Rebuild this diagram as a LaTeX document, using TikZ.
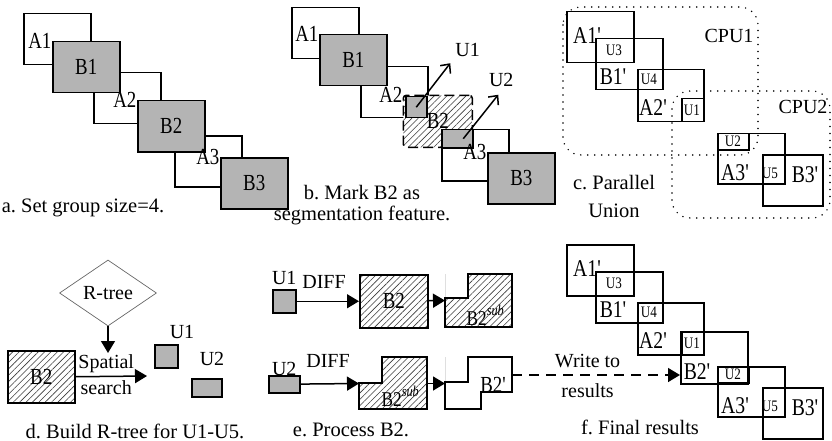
\documentclass[tikz,border=0pt]{standalone}
\usepackage{fontspec}
\setmainfont{Liberation Serif}
\newfontfamily\condfont{Liberation Serif}[FakeStretch=0.82]
\usetikzlibrary{arrows.meta,positioning,shapes.geometric,patterns.meta}
\frenchspacing
\definecolor{boxgray}{HTML}{B4B4B4}
\definecolor{hatchgray}{HTML}{3C3C3C}
\tikzset{
  blk/.style={draw, line width=1.5pt, inner sep=0pt, anchor=north west,
    minimum width=67pt, minimum height=51pt},
  gblk/.style={blk, fill=boxgray},
  hatch/.style={preaction={fill=white},
    pattern={Lines[angle=45,distance=4.5pt,line width=0.6pt]}, pattern color=hatchgray},
  small/.style={draw, line width=1.5pt, inner sep=0pt, anchor=north west},
  gsmall/.style={small, fill=boxgray},
  lbl/.style={font=\condfont\fontsize{23}{25}\selectfont, inner sep=0.5pt},
  plbl/.style={font=\condfont\fontsize{24}{26}\selectfont, inner sep=0.5pt},
  ulbl/.style={font=\condfont\fontsize{16}{18}\selectfont, inner sep=0pt},
  txt/.style={font=\fontsize{20}{22}\selectfont, inner sep=2pt},
  capt/.style={font=\fontsize{20.5}{21}\selectfont, align=center, inner sep=0pt},
  flow/.style={line width=1.5pt, -{Triangle[length=12pt,width=14pt]}},
  barb/.style={line width=1.5pt, -{Straight Barb[length=7pt,width=13pt]}},
  cpu/.style={line width=1.6pt, dash pattern=on 0pt off 7pt, line cap=round, rounded corners=18pt},
}
\begin{document}
\begin{tikzpicture}[x=1pt,y=-1pt]
  \useasboundingbox (0,0) rectangle (832,441);
  % a. group size
  \foreach \n/\x/\y in {1/23/13,2/93/72,3/174/135}
    \node[blk] (aA\n) at (\x,\y) {};
  \foreach \n/\x/\y in {1/52/41,2/137/100,3/220/157}{
    \node[gblk, lbl] (aB\n) at (\x,\y) {B\n};
    \node[lbl, anchor=east] (aL\n) at (aB\n.north west) {A\n};
  }
  \node[capt, anchor=base] (capa) at (83,212) {a. Set group size=4.};

  % b. segmentation feature
  \foreach \n/\x/\y in {1/291/7,2/360/66,3/441/129}
    \node[blk] (bA\n) at (\x,\y) {};
  \foreach \n/\x/\y in {1/319/34,3/487/152}
    \node[gblk, lbl] (bB\n) at (\x,\y) {B\n};
  \node[blk, hatch, dash pattern=on 10pt off 5pt, rounded corners=3pt,
    minimum width=69pt, minimum height=52pt] (bB2) at (403,95) {};
  \node[gsmall, minimum width=21pt, minimum height=21pt] (bU1) at (405,96) {};
  \node[gsmall, minimum width=31pt, minimum height=18pt] (bU2) at (441,129) {};
  \node[lbl] (bB2l) at (bB2.center) {B2};
  \foreach \n in {1,2,3}
    \node[lbl, anchor=east] (bL\n) at (bB\n.north west) {A\n};
  \draw[barb] (bU1.center) -- ++(34,-44) coordinate (bT1);
  \draw[barb] ([xshift=6pt]bU2.center) -- ++(35,-44) coordinate (bT2);
  \node[txt, anchor=south west] (bN1) at ([xshift=3pt,yshift=4pt]bT1) {U1};
  \node[txt, anchor=south] (bN2) at ([xshift=3pt,yshift=6pt]bT2) {U2};
  \node[capt, anchor=north] (capb) at (362,185) {b. Mark B2 as\\segmentation feature.};

  % c. and f. pieces
  \draw[cpu] (563,7) rectangle (758,155);
  \draw[cpu] (672,91) rectangle (830,218);
  \node[txt] (cpu1) at (729,36) {CPU1};
  \node[txt] (cpu2) at (803,107) {CPU2};
  \foreach \p/\dy in {c/0,f/233}{
    \begin{scope}[shift={(0,\dy)}]
      \node[blk] (\p A1) at (566,11) {};
      \node[blk] (\p B1) at (595,38) {};
      \node[blk, minimum width=66pt, minimum height=52pt] (\p A2) at (637,69) {};
      \node[blk, minimum height=50pt] (\p A3) at (717,133) {};
      \node[blk, minimum width=60pt] (\p B3) at (762,154) {};
      \node[small, minimum width=22pt, minimum height=23pt] (\p U1) at (681,98) {};
      \node[small, minimum width=31pt, minimum height=16pt] (\p U2) at (717,133) {};
      \node[plbl] (\p LA1) at (587,36) {A1'};
      \node[plbl] (\p LB1) at (613,77) {B1'};
      \node[plbl] (\p LA2) at (653,108) {A2'};
      \node[plbl] (\p LA3) at (735,173) {A3'};
      \node[plbl] (\p LB3) at (805,175) {B3'};
      \node[ulbl] (\p LU3) at (614,50) {U3};
      \node[ulbl] (\p LU4) at (649,79) {U4};
      \node[ulbl] (\p LU1) at (692,110) {U1};
      \node[ulbl] (\p LU2) at (733,141) {U2};
      \node[ulbl] (\p LU5) at (770,173) {U5};
    \end{scope}
  }
  \node[capt, anchor=north, font=\fontsize{20.5}{28}\selectfont] (capc) at (614,175) {c. Parallel\\Union};
  \node[blk, minimum height=52pt] (fB2) at (680,331) {};
  \node[plbl] (fLB2) at (697,372) {B2'};
  \node[capt, anchor=base] (capf) at (640,434) {f. Final results};

  % d. R-tree
  \node[diamond, draw=gray!80!black, line width=0.7pt, aspect=1.47, minimum width=97pt,
    minimum height=66pt, txt, inner sep=0pt] (rt) at (108,293) {R-tree};
  \coordinate (rtip) at (108,353);
  \draw[flow] (rt.south) -- (rtip);
  \node[blk, hatch, lbl, minimum height=52pt] (dB2) at (7,350) {B2};
  \coordinate (dtip) at (147,376);
  \draw[flow] (dB2.east) -- (dtip)
    node[txt, pos=0.43, above=1pt] (dsp) {Spatial}
    node[txt, pos=0.43, below=1pt] (dse) {search};
  \node[gsmall, minimum width=23pt, minimum height=23pt] (dU1) at (154,344) {};
  \node[gsmall, minimum width=30pt, minimum height=18pt] (dU2) at (191,378) {};
  \node[txt] (dN1) at (182,332) {U1};
  \node[txt] (dN2) at (212,359) {U2};
  \node[capt, anchor=base] (capd) at (135,438) {d. Build R-tree for U1-U5.};

  % e. process B2
  \node[gsmall, minimum width=23pt, minimum height=23pt] (eU1) at (272,289) {};
  \node[txt, above=2pt of eU1] (eN1) {U1};
  \node[blk, hatch, lbl, minimum width=68pt, minimum height=53pt] (eB2) at (359,274) {B2};
  \draw[flow] (eU1) -- (eB2) node[txt, pos=0.44, above=10pt] (eD1) {DIFF};
  \draw[gray!25, line width=0.6pt] (445,274) -- (445,298);
  \draw[hatch, line width=1.5pt] (445,298) -- (468,298) -- (468,274) -- (512,274)
    -- (512,327) -- (445,327) -- cycle;
  \coordinate (eS1) at (445,300.5);
  \draw[flow] (eB2) -- (eS1);
  \node[lbl, anchor=base west, font=\condfont\fontsize{21}{23}\selectfont] (eL1) at (466,325)
    {B2\raisebox{10pt}{\fontsize{15}{15}\selectfont\itshape sub}};

  \node[gsmall, minimum width=31pt, minimum height=17pt] (eU2) at (268,375) {};
  \node[txt, above=-3pt of eU2] (eN2) {U2};
  \draw[hatch, line width=1.5pt] (359,383) -- (382,383) -- (382,357) -- (427,357)
    -- (427,409) -- (359,409) -- cycle;
  \coordinate (eS2w) at (359,383.5);
  \draw[flow] (eU2) -- (eS2w) node[txt, pos=0.47, above=14pt] (eD2) {DIFF};
  \node[lbl, anchor=base west, font=\condfont\fontsize{21}{23}\selectfont] (eL2) at (381,406)
    {B2\raisebox{10pt}{\fontsize{15}{15}\selectfont\itshape sub}};
  \draw[gray!25, line width=0.6pt] (445,357) -- (445,382);
  \draw[line width=1.5pt] (445,382) -- (468,382) -- (468,357) -- (512,357) -- (512,392)
    -- (481,392) -- (481,409) -- (445,409) -- cycle;
  \coordinate (eS2e) at (427,383.5);
  \coordinate (ePw) at (445,383.5);
  \draw[flow] (eS2e) -- (ePw);
  \node[lbl] (eL3) at (493,385) {B2'};
  \coordinate (eW) at (512,375);
  \draw[flow, dash pattern=on 10pt off 7pt] (eW) -- (fB2.west |- eW)
    node[txt, pos=0.45, above=4pt] (eWr) {Write to}
    node[txt, pos=0.45, below=6pt] (eRs) {results};
  \node[capt, anchor=base] (cape) at (351,436) {e. Process B2.};
\end{tikzpicture}
\end{document}
